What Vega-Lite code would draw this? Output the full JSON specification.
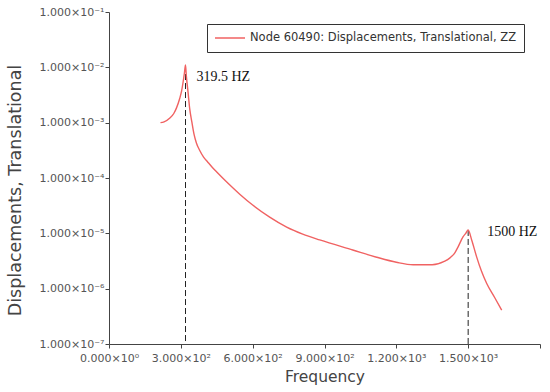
{
  "$schema": "https://vega.github.io/schema/vega-lite/v6.json",
  "width": 431,
  "height": 332,
  "autosize": {"type": "none"},
  "padding": {"left": 109, "top": 12, "right": 10, "bottom": 48},
  "background": "white",
  "config": {
    "view": {"stroke": null},
    "font": "DejaVu Sans",
    "axis": {
      "grid": false,
      "domainColor": "#444444",
      "tickColor": "#444444",
      "labelColor": "#555555",
      "titleColor": "#444444",
      "labelFont": "DejaVu Sans",
      "titleFont": "DejaVu Sans",
      "titleFontWeight": "normal",
      "labelFontSize": 11,
      "labelOverlap": false,
      "labelBound": false,
      "labelFlush": false,
      "tickSize": 4
    }
  },
  "datasets": {
    "curve": [
      {"f": 215, "v": 0.00100},
      {"f": 230, "v": 0.00103},
      {"f": 253, "v": 0.00120},
      {"f": 270, "v": 0.00145},
      {"f": 282, "v": 0.00185},
      {"f": 295, "v": 0.0027},
      {"f": 303, "v": 0.0037},
      {"f": 310, "v": 0.0056},
      {"f": 315, "v": 0.0079},
      {"f": 319.5, "v": 0.011},
      {"f": 323, "v": 0.0070},
      {"f": 330, "v": 0.0036},
      {"f": 337, "v": 0.0018},
      {"f": 346, "v": 0.00103},
      {"f": 355, "v": 0.00062},
      {"f": 365, "v": 0.00043},
      {"f": 379, "v": 0.000314},
      {"f": 395, "v": 0.000239},
      {"f": 412, "v": 0.000195},
      {"f": 430, "v": 0.000158},
      {"f": 450, "v": 0.000128},
      {"f": 496, "v": 0.000081},
      {"f": 546, "v": 0.000051},
      {"f": 600, "v": 0.0000325},
      {"f": 671, "v": 0.0000197},
      {"f": 742, "v": 0.0000130},
      {"f": 809, "v": 0.0000097},
      {"f": 880, "v": 0.0000076},
      {"f": 1018, "v": 0.0000050},
      {"f": 1118, "v": 0.0000037},
      {"f": 1200, "v": 0.0000030},
      {"f": 1270, "v": 0.0000027},
      {"f": 1350, "v": 0.0000027},
      {"f": 1400, "v": 0.0000031},
      {"f": 1424, "v": 0.0000036},
      {"f": 1445, "v": 0.0000045},
      {"f": 1458, "v": 0.0000057},
      {"f": 1479, "v": 0.0000087},
      {"f": 1490, "v": 0.0000100},
      {"f": 1500, "v": 0.0000115},
      {"f": 1515, "v": 0.0000075},
      {"f": 1535, "v": 0.0000038},
      {"f": 1555, "v": 0.0000021},
      {"f": 1577, "v": 0.00000125},
      {"f": 1610, "v": 0.00000070},
      {"f": 1640, "v": 0.00000041}
    ],
    "peaks": [
      {"f": 319.5, "v": 0.011, "label": "319.5 HZ"},
      {"f": 1500, "v": 0.0000115, "label": "1500 HZ"}
    ]
  },
  "layer": [
    {
      "data": {"name": "peaks"},
      "mark": {"type": "rule", "color": "#222222", "strokeDash": [6, 3], "strokeWidth": 1},
      "encoding": {
        "x": {"field": "f", "type": "quantitative"},
        "y": {"field": "v", "type": "quantitative"},
        "y2": {"datum": 0.0000001}
      }
    },
    {
      "data": {"name": "curve"},
      "mark": {"type": "line", "strokeWidth": 1.4, "interpolate": "monotone"},
      "encoding": {
        "x": {
          "field": "f", "type": "quantitative",
          "scale": {"domain": [0, 1800], "nice": false},
          "axis": {
            "title": "Frequency",
            "titleFontSize": 15.5,
            "values": [0, 300, 600, 900, 1200, 1500, 1800],
            "labelExpr": "datum.value == 0 ? '0.000×10⁰' : datum.value >= 1800 ? '' : datum.value < 1000 ? format(datum.value/100, '.3f') + '×10²' : format(datum.value/1000, '.3f') + '×10³'",
            "labelPadding": 4,
            "titlePadding": 6
          }
        },
        "y": {
          "field": "v", "type": "quantitative",
          "scale": {"type": "log", "domain": [0.0000001, 0.1], "nice": false},
          "axis": {
            "title": "Displacements, Translational",
            "titleFontSize": 17.5,
            "titleY": 178,
            "values": [0.0000001, 0.000001, 0.00001, 0.0001, 0.001, 0.01, 0.1],
            "labelExpr": "'1.000×10⁻' + ['⁰','¹','²','³','⁴','⁵','⁶','⁷'][-round(log(datum.value)/LN10)]",
            "labelPadding": 1,
            "titlePadding": 15
          }
        },
        "color": {
          "datum": "Node 60490: Displacements, Translational, ZZ",
          "type": "nominal",
          "scale": {"range": ["#f06262"]},
          "legend": {
            "title": null,
            "orient": "none",
            "legendX": 98,
            "legendY": 12,
            "symbolType": "M-1,0H1",
            "symbolSize": 900,
            "symbolStrokeWidth": 1.5,
            "clipHeight": 14,
            "labelFontSize": 11.5,
            "labelLimit": 400,
            "labelColor": "#333333",
            "labelFont": "DejaVu Sans",
            "strokeColor": "#333333",
            "fillColor": "white",
            "padding": 7
          }
        }
      }
    },
    {
      "data": {"name": "peaks"},
      "transform": [{"filter": "datum.f < 1000"}],
      "mark": {"type": "text", "align": "left", "baseline": "middle", "dx": 11, "dy": 12, "font": "Liberation Serif", "fontSize": 14, "color": "#111111"},
      "encoding": {
        "x": {"field": "f", "type": "quantitative"},
        "y": {"field": "v", "type": "quantitative"},
        "text": {"field": "label"}
      }
    },
    {
      "data": {"name": "peaks"},
      "transform": [{"filter": "datum.f > 1000"}],
      "mark": {"type": "text", "align": "left", "baseline": "middle", "dx": 19, "dy": 2, "font": "Liberation Serif", "fontSize": 14, "color": "#111111"},
      "encoding": {
        "x": {"field": "f", "type": "quantitative"},
        "y": {"field": "v", "type": "quantitative"},
        "text": {"field": "label"}
      }
    }
  ]
}
